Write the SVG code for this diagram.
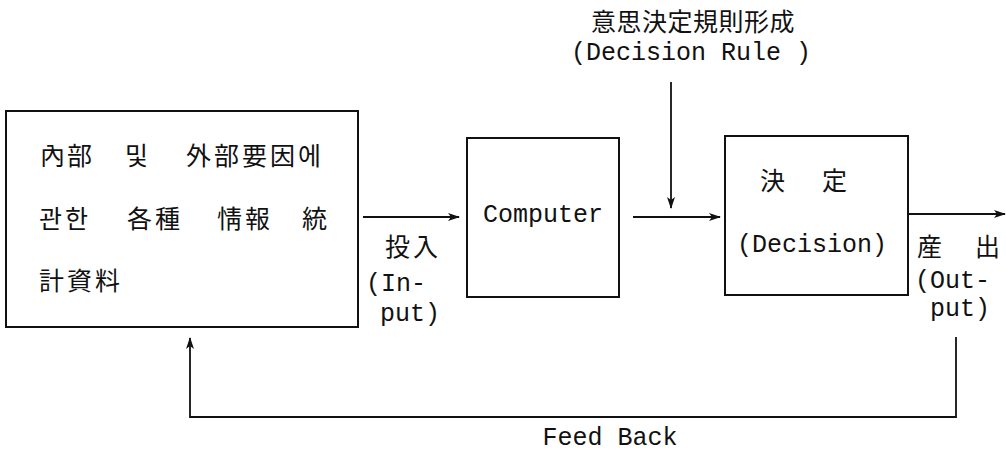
<svg xmlns="http://www.w3.org/2000/svg" width="1006" height="451" viewBox="0 0 1006 451">
<style>
.box{fill:none;stroke:#111;stroke-width:2}
.ln{fill:none;stroke:#111;stroke-width:1.8}
.cjk{font-family:"Noto Sans CJK KR","Noto Sans CJK JP",sans-serif;font-size:25px;fill:#111}
.mono{font-family:"Liberation Mono","DejaVu Sans Mono",monospace;font-size:25px;fill:#111}
</style>
<defs>
<marker id="ah" viewBox="0 0 12 8" refX="11" refY="4" markerWidth="12" markerHeight="8" markerUnits="userSpaceOnUse" orient="auto">
<path d="M0,0 L12,4 L0,8 L3,4 z" fill="#111"/>
</marker>
</defs>
<rect width="1006" height="451" fill="#fff"/>
<g id="node-info">
<rect class="box" x="6" y="111" width="352" height="216"/>
<text class="cjk" x="40" y="165" letter-spacing="2">內部</text>
<text class="cjk" x="125" y="165">및</text>
<text class="cjk" x="186" y="165" letter-spacing="3">外部要因에</text>
<text class="cjk" x="39" y="228" letter-spacing="3">관한</text>
<text class="cjk" x="127" y="228" letter-spacing="3">各種</text>
<text class="cjk" x="217" y="228" letter-spacing="3">情報</text>
<text class="cjk" x="302" y="228">統</text>
<text class="cjk" x="39" y="290" letter-spacing="3">計資料</text>
</g>
<g id="node-computer">
<rect class="box" x="467" y="138" width="152" height="159"/>
<text class="mono" x="543" y="222" text-anchor="middle" font-size="26">Computer</text>
</g>
<g id="node-decision">
<rect class="box" x="725" y="136" width="183" height="159"/>
<text class="cjk" x="760" y="190">決</text>
<text class="cjk" x="822" y="190">定</text>
<text class="mono" x="812" y="252" text-anchor="middle" font-size="26">(Decision)</text>
</g>
<g id="label-rule">
<text class="cjk" x="591" y="31" letter-spacing="0.5" font-size="24">意思決定規則形成</text>
<text class="mono" x="571" y="60" font-size="22.5">(Decision Rule )</text>
</g>
<g id="label-input">
<text class="cjk" x="385" y="256" letter-spacing="3">投入</text>
<text class="mono" x="366" y="291">(In-</text>
<text class="mono" x="380" y="321">put)</text>
</g>
<g id="label-output">
<text class="cjk" x="917" y="256">産</text>
<text class="cjk" x="975" y="256">出</text>
<text class="mono" x="915" y="288">(Out-</text>
<text class="mono" x="930" y="316">put)</text>
</g>
<g id="label-feedback">
<text class="mono" x="610" y="445" text-anchor="middle" font-size="24">Feed Back</text>
</g>
<g id="connectors">
<line class="ln" x1="363" y1="217" x2="459" y2="217" marker-end="url(#ah)"/>
<line class="ln" x1="633" y1="217" x2="720" y2="217" marker-end="url(#ah)"/>
<line class="ln" x1="671" y1="82" x2="671" y2="208" marker-end="url(#ah)"/>
<line class="ln" x1="908" y1="214" x2="1005" y2="214" marker-end="url(#ah)"/>
<polyline class="ln" points="956,337 956,417 190,417 190,338" marker-end="url(#ah)"/>
</g>
</svg>
